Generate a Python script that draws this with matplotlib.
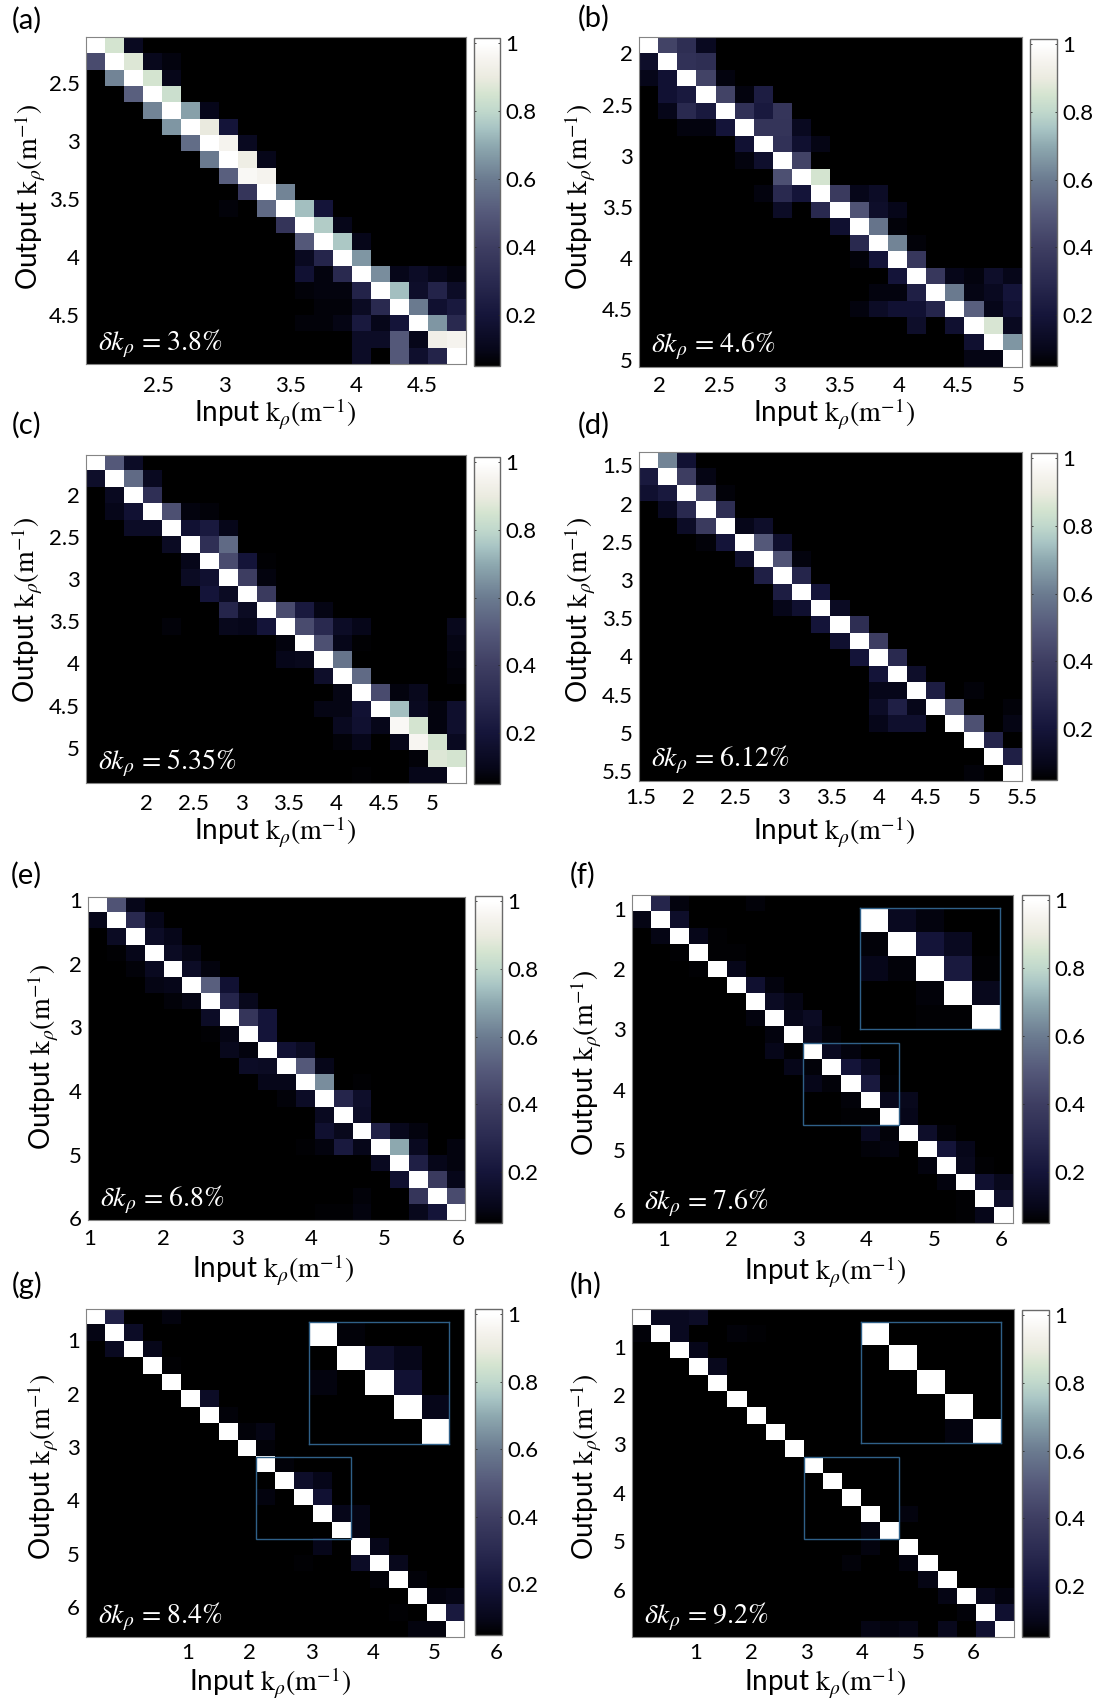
"""
Eight transfer matrices (input vs output k_rho), each with its own colorbar.
Every matrix is 20 x 20, rows are kept sparse as (first column, values).
"""
import matplotlib
matplotlib.use("Agg")
import matplotlib.pyplot as plt
import numpy as np
from matplotlib.colors import LinearSegmentedColormap, Normalize
from matplotlib.patches import Rectangle

plt.rcParams["font.family"] = ["Lato", "DejaVu Sans"]
plt.rcParams["mathtext.fontset"] = "stix"

W, H = 1104, 1701

# --- data -------------------------------------------------------------------
rows_a = [
    (0, [1, .85, .12]), (0, [.45, 1, .87, .11, .08]), (1, [.62, 1, .85, .1]),
    (2, [.52, 1, .83]), (3, [.62, 1, .68, .1]), (4, [.66, 1, .9, .2]),
    (5, [.56, 1, .95, .12]), (6, [.6, 1, .92, .1]), (7, [.52, .97, .95]),
    (8, [.36, 1, .62]), (7, [.07, 0, .55, 1, .74, .2]), (10, [.35, 1, .77, .1]),
    (11, [.5, 1, .76, .1]), (11, [.12, .28, 1, .66]),
    (11, [.18, .08, .3, 1, .64, .1, .14, .1, .08]),
    (11, [.07, .08, .08, .27, 1, .74, .15, .27, .14]),
    (12, [.07, .07, .13, .3, 1, .6, .17, .22]),
    (11, [.07, .07, .09, .22, .1, .2, 1, .66, .3]),
    (14, [.14, .14, .5, .1, .93, .95]), (14, [.14, 0, .5, .16, .27, 1]),
]
rows_b = [
    (0, [1, .42, .32, .12]), (0, [.15, 1, .34, .32]), (0, [.1, .18, 1, .42, .08]),
    (1, [.18, .22, 1, .42, .08, .24]), (1, [.1, .3, .22, 1, .34, .22, .36]),
    (2, [.08, .08, .2, 1, .35, .35, .12]), (5, [.18, 1, .34, .17, .09]),
    (5, [.08, .16, 1, .42]), (7, [.47, 1, .85]),
    (6, [.08, .3, .2, 1, .38, .1, .14]), (7, [.14, 0, .3, 1, .48, .15, .1]),
    (10, [.17, 1, .58, .07]), (11, [.3, 1, .62, .07]), (11, [.07, .2, 1, .37]),
    (13, [.2, 1, .37, .1, .08, .15, .1]),
    (12, [.08, .08, .25, 1, .6, .09, .12, .2]),
    (11, [.08, .14, .18, .18, .28, 1, .52, .1, .18]),
    (14, [.15, 0, .17, 1, .86, .12]), (17, [.17, 1, .66]), (17, [.09, .09, 1]),
]
rows_c = [
    (0, [1, .5, .14]), (0, [.15, 1, .55, .12]), (1, [.12, 1, .33]),
    (1, [.1, .18, 1, .47, .08, .07]), (2, [.14, .14, 1, .18, .22, .1]),
    (4, [.13, 1, .33, .55]), (5, [.1, 1, .45, .2, .06]), (5, [.13, .17, 1, .4, .08]),
    (6, [.2, .13, 1, .38]), (7, [.28, .13, 1, .45, .22, .09]),
    (4, [.07, 0, 0, .11, .1, .2, 1, .45, .3, .14, .1, 0, 0, 0, 0, .11]),
    (10, [.08, 1, .47, .1, .06, 0, 0, 0, 0, .09]),
    (10, [.1, .11, 1, .58, 0, 0, 0, 0, 0, .08]),
    (12, [.15, 1, .55, 0, 0, 0, 0, .07]), (13, [.09, 1, .45, .08, .11]),
    (12, [.09, .09, .18, 1, .74, .12, .08, .16]),
    (13, [.12, .17, .1, .97, .85, .08, .16]),
    (13, [.07, .1, 0, .1, .96, .85, .12]), (17, [.07, .87, .85]), (14, [.06, 0, 0, .1, .1, 1]),
]
rows_d = [
    (0, [1, .62, .18]), (0, [.22, 1, .4, .09]), (0, [.17, .22, 1, .42, .07]),
    (1, [.12, .3, 1, .32]), (2, [.14, .38, 1, .1, .15]), (3, [.07, .2, 1, .5, .16]),
    (5, [.16, 1, .48, .08]), (6, [.25, 1, .28]), (7, [.24, 1, .2]),
    (7, [.1, .17, 1, .13]), (9, [.2, 1, .32]), (10, [.17, 1, .4]), (11, [.2, 1, .3]),
    (12, [.2, 1, .15]), (12, [.1, .1, 1, .24, 0, .07]),
    (12, [.14, .25, .1, 1, .47, 0, 0, .07]), (12, [.1, .16, .16, 0, 1, .47, 0, .09]),
    (17, [1, .28]), (18, [1, .25]), (17, [.07, 0, 1]),
]
rows_e = [
    (0, [1, .48, .1]), (0, [.1, 1, .3, .1]), (1, [.13, 1, .14, .1]),
    (1, [.06, .1, 1, .13, .09]), (2, [.07, .12, 1, .14, .08]),
    (3, [.09, .1, 1, .52, .18]), (4, [.07, .09, 1, .28, .11]),
    (6, [.14, 1, .36, .2]), (6, [.06, .09, 1, .2]), (7, [.11, .08, 1, .18, .13]),
    (8, [.14, .13, 1, .5, .1]), (9, [.1, .1, 1, .64, 0, .06]),
    (10, [.07, .14, 1, .28, .15]), (12, [.12, 1, .14]),
    (12, [.17, .11, 1, .26, .11, .08]), (11, [.06, .08, .22, .1, 1, .7, .12, 0, .08]),
    (15, [.12, 1, .25, .1, .08]), (16, [.17, 1, .38, .1]),
    (14, [.07, 0, 0, .36, 1, .45]), (12, [.06, .06, .08, 0, 0, .11, .2, 1]),
]
rows_f = [
    (0, [1, .28, .08, 0, 0, 0, .07]), (0, [.09, 1, .15]), (1, [.09, 1, .1, .06]),
    (2, [.06, 1, .06, .06]), (3, [.06, 1, .1]), (5, [1, .17, .08]), (6, [1, .13, .09]),
    (6, [.08, 1, .1, .13]), (7, [.08, 1, .11, .07]), (7, [.1, .06, 1, .12, .08]),
    (8, [.1, .07, 1, .2, .12]), (9, [.1, .07, 1, .22, .06]), (11, [.07, 1, .11, .11]),
    (11, [.06, .06, 1, .1]), (12, [.12, .07, 1, .15, .07]), (12, [.07, .08, 0, 1, .2, .1]),
    (15, [.08, 1, .11, .06]), (16, [.08, 1, .17, .11]), (17, [.06, 1, .15]), (17, [.06, .1, 1]),
]
rows_g = [
    (0, [1, .25, 0, 0, .08]), (0, [.09, 1, .14]), (1, [.12, 1, .1]), (3, [1, .06]),
    (4, [1]), (5, [1, .14]), (6, [1, .07]), (7, [1, .07, .09]), (8, [1, .07]),
    (9, [1, .07]), (10, [1, .15, .1]), (9, [.08, 0, 1, .18]), (12, [1, .1, .09]),
    (13, [1, .09]), (12, [.1, 0, 1, .1]), (11, [.06, 0, 0, .14, 1, .11]),
    (15, [.07, 1, .07]), (17, [1, .08, .09]), (16, [.06, 0, 1, .22]), (17, [.08, .08, 1]),
]
rows_h = [
    (0, [1, .12, .12, .14]), (0, [.07, 1, .12, 0, 0, .07, .06]), (2, [1, .1]),
    (3, [1, .11]), (4, [1]), (5, [1]), (6, [1]), (7, [1]), (8, [1]), (9, [1]),
    (10, [1]), (11, [1]), (12, [1, 0, .08]), (12, [.08, 1]), (12, [.08, 0, 1]),
    (11, [.07, 0, 0, .08, 1]), (15, [.09, 1]), (16, [.09, 1, .11, .08]),
    (17, [.07, 1, .17]), (12, [.09, .08, .09, 0, .11, 0, .17, 1]),
]

panel_rows = [rows_a, rows_b, rows_c, rows_d, rows_e, rows_f, rows_g, rows_h]
panel_names = ["(a)", "(b)", "(c)", "(d)", "(e)", "(f)", "(g)", "(h)"]
deltas = ["3.8", "4.6", "5.35", "6.12", "6.8", "7.6", "8.4", "9.2"]

x_ranges = [(1.945, 4.835), (1.825, 5.03), (1.367, 5.36), (1.485, 5.5),
            (0.976, 6.09), (0.536, 6.17), (-0.648, 5.48), (-0.147, 6.73)]
y_ranges = [(2.10, 4.92), (1.84, 5.065), (1.53, 5.417), (1.325, 5.63),
            (0.95, 6.03), (0.774, 6.21), (0.41, 6.56), (0.22, 6.97)]
half_ticks_a = [2.5, 3, 3.5, 4, 4.5]
half_ticks_b = [2, 2.5, 3, 3.5, 4, 4.5, 5]
half_ticks_d = [1.5, 2, 2.5, 3, 3.5, 4, 4.5, 5, 5.5]
whole_ticks = [1, 2, 3, 4, 5, 6]
x_ticks = [half_ticks_a, half_ticks_b, half_ticks_b, half_ticks_d,
           whole_ticks, whole_ticks, [1, 2, 3, 4, 5], whole_ticks]
y_ticks = [half_ticks_a, half_ticks_b, half_ticks_b, half_ticks_d,
           whole_ticks, whole_ticks, whole_ticks, whole_ticks]
cbar_ticks = [0.2, 0.4, 0.6, 0.8, 1]

# --- layout, in pixels of the final image ------------------------------------
ax_boxes = [(86, 37, 466, 364), (639, 37, 1022, 367), (86, 455, 466, 783), (639, 452, 1022, 781),
            (88, 897, 465, 1220), (632, 895, 1013, 1223), (86, 1309, 464, 1637), (632, 1309, 1014, 1637)]
cb_boxes = [(474, 38, 500, 366), (1030, 39, 1057, 366), (474, 457, 500, 784), (1031, 453, 1057, 780),
            (475, 896, 502, 1223), (1022, 895, 1049, 1223), (475, 1309, 502, 1635), (1022, 1310, 1049, 1637)]
xlabel_pos = [(275, 414), (834, 414), (275, 832), (834, 832), (273, 1270), (825, 1272), (270, 1683), (825, 1683)]
ylabel_pos = [(31, 197), (580, 197), (28, 610), (580, 610), (44, 1057), (587, 1063), (44, 1467), (587, 1467)]
name_pos = [(12, 20), (578, 18), (12, 425), (578, 425), (11, 875), (570, 875), (12, 1285), (570, 1285)]
x_pads = [12, 9, 11, 7, 9, 7, 6, 6]
inset_boxes = {5: (860, 908, 1000, 1029), 6: (309, 1322, 449, 1444), 7: (861, 1322, 1001, 1443)}

TICK_SIZE = 16
CB_MIN, CB_MAX = 0.05, 1.015
BLUE = "#2f6088"
FRAME = "#858585"
stops = [(.05, "#000000"), (.1, "#07071a"), (.2, "#15153a"), (.3, "#2a2a50"), (.4, "#3e3e62"),
         (.5, "#55597a"), (.6, "#6b7b90"), (.7, "#8ea9b0"), (.75, "#a8c4c4"), (.8, "#c0d8cc"),
         (.85, "#d4e4d0"), (.9, "#ebebe0"), (.95, "#f5f3ee"), (1.0, "#ffffff"), (1.015, "#ffffff")]
cmap = LinearSegmentedColormap.from_list(
    "kspace", [((v - CB_MIN) / (CB_MAX - CB_MIN), c) for v, c in stops], N=512)
norm = Normalize(CB_MIN, CB_MAX)


def add_axes_px(fig, box):
    x0, y0, x1, y1 = box
    return fig.add_axes([x0 / W, 1 - y1 / H, (x1 - x0) / W, (y1 - y0) / H])


def build_matrix(rows):
    m = np.zeros((20, 20))
    for i, (start, vals) in enumerate(rows):
        m[i, start:start + len(vals)] = vals
    return m


def style_frame(ax, color=FRAME, lw=0.8):
    for s in ax.spines.values():
        s.set_color(color)
        s.set_linewidth(lw)


def draw_panel(fig, i):
    m = build_matrix(panel_rows[i])
    xl, xr = x_ranges[i]
    yt, yb = y_ranges[i]

    ax = add_axes_px(fig, ax_boxes[i])
    im = ax.imshow(m, cmap=cmap, norm=norm, aspect="auto", origin="upper",
                   interpolation="nearest", extent=(xl, xr, yb, yt))
    ax.set_xticks(x_ticks[i], [f"{t:g}" for t in x_ticks[i]])
    ax.set_yticks(y_ticks[i], [f"{t:g}" for t in y_ticks[i]])
    ax.tick_params(axis="x", length=0, labelsize=TICK_SIZE, pad=x_pads[i] * 0.72)
    ax.tick_params(axis="y", length=0, labelsize=TICK_SIZE, pad=4.5)
    style_frame(ax)
    ax.text(0.032, 0.063, rf"$\delta k_{{\rho}}$ = {deltas[i]}%", transform=ax.transAxes,
            color="white", fontsize=20, family="STIXGeneral", va="center", ha="left")

    # panel (g) has a stray "6" under its colorbar
    if i == 6:
        ax.annotate("6", xy=(6, 0), xycoords=ax.get_xaxis_transform(),
                    xytext=(0, -x_pads[i] * 0.72), textcoords="offset points",
                    ha="center", va="top", fontsize=TICK_SIZE, annotation_clip=False)

    cax = add_axes_px(fig, cb_boxes[i])
    cb = fig.colorbar(im, cax=cax, ticks=cbar_ticks)
    cb.ax.set_yticklabels([f"{t:g}" for t in cbar_ticks])
    cb.ax.tick_params(axis="y", length=1.5, width=0.6, color="#222222", direction="in",
                      labelsize=TICK_SIZE, pad=4, left=True, right=True)
    style_frame(cb.ax, "#6a6a6a", 1.0)
    cb.outline.set_edgecolor("#6a6a6a")
    cb.outline.set_linewidth(1.0)

    if i in inset_boxes:
        dx = (xr - xl) / 20
        dy = (yb - yt) / 20
        ax.add_patch(Rectangle((xl + 9 * dx, yt + 9 * dy), 5 * dx, 5 * dy,
                               fill=False, edgecolor=BLUE, lw=1.0, zorder=5))
        inset = add_axes_px(fig, inset_boxes[i])
        inset.imshow(m[9:14, 9:14], cmap=cmap, norm=norm, aspect="auto", interpolation="nearest")
        inset.set_xticks([])
        inset.set_yticks([])
        style_frame(inset, BLUE, 1.0)

    x, y = xlabel_pos[i]
    fig.text(x / W, 1 - y / H, r"Input $\mathrm{k}_{\rho}(\mathrm{m}^{-1})$",
             fontsize=20, ha="center", va="center")
    x, y = ylabel_pos[i]
    fig.text(x / W, 1 - y / H, r"Output $\mathrm{k}_{\rho}(\mathrm{m}^{-1})$",
             fontsize=20, ha="center", va="center", rotation=90)
    x, y = name_pos[i]
    fig.text(x / W, 1 - y / H, panel_names[i], fontsize=21, ha="left", va="center")


fig = plt.figure(figsize=(W / 100, H / 100), dpi=100)
for i in range(8):
    draw_panel(fig, i)
fig.savefig("out.png", dpi=100)
